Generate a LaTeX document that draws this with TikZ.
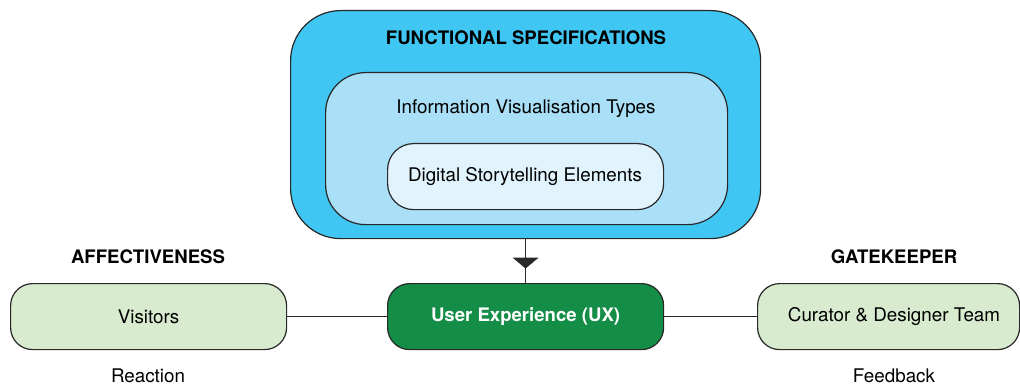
\documentclass[tikz,border=0pt]{standalone}
\usepackage{fontspec}
\setmainfont{TeX Gyre Heros}
\usetikzlibrary{arrows.meta,decorations.markings}
\definecolor{specblue}{RGB}{64,198,242}
\definecolor{typeblue}{RGB}{170,223,248}
\definecolor{elemblue}{RGB}{225,243,252}
\definecolor{uxgreen}{RGB}{20,141,70}
\definecolor{palegreen}{RGB}{216,235,207}
\definecolor{edge}{RGB}{40,40,40}
\begin{document}
\begin{tikzpicture}[x=1pt,y=-1pt,
  txt/.style={font=\fontsize{18.8}{22}\selectfont, text=black, inner sep=0pt},
  hdr/.style={font=\fontsize{18.6}{22}\selectfont\bfseries, text=black, inner sep=0pt},
  panel/.style={draw=edge, line width=1.2pt, inner sep=0pt, anchor=north west},
  wire/.style={draw=edge, line width=1.1pt}
]
\useasboundingbox (0,0) rectangle (1020,385);

% functional specification nest
\node[panel, fill=specblue, rounded corners=50pt, minimum width=470pt, minimum height=228pt] (fs) at (290,10) {};
\node[hdr] (fstitle) at (526,38) {FUNCTIONAL SPECIFICATIONS};
\node[panel, fill=typeblue, rounded corners=40pt, minimum width=402pt, minimum height=152pt] (ivt) at (325,72) {};
\node[txt] (ivttitle) at (526,108.5) {Information Visualisation Types};
\node[panel, fill=elemblue, rounded corners=26pt, minimum width=276pt, minimum height=66pt] (dse) at (387,143) {};
\node[txt] (dsetitle) at (525,176.5) {Digital Storytelling Elements};

% bottom row
\node[panel, fill=uxgreen, rounded corners=22pt, minimum width=276pt, minimum height=66pt] (ux) at (387,283) {};
\node[hdr, text=white] (uxtitle) at (ux.center) {User Experience (UX)};
\node[panel, fill=palegreen, rounded corners=22pt, minimum width=276pt, minimum height=66pt] (vis) at (10,283) {};
\node[txt] (vistitle) at (vis.center) {Visitors};
\node[panel, fill=palegreen, rounded corners=22pt, minimum width=262pt, minimum height=66pt] (cur) at (757,283) {};
\node[txt] (curtitle) at (894,316.5) {Curator \& Designer Team};

% captions
\node[hdr] (aff) at (148,257) {AFFECTIVENESS};
\node[txt] (react) at (148,376) {Reaction};
\node[hdr] (gate) at (894,257) {GATEKEEPER};
\node[txt] (feed) at (894,376) {Feedback};

% connectors
\draw[wire, postaction={decorate}, decoration={markings,
  mark=at position 0.67 with {\arrow{Triangle[width=26pt,length=11pt]}}}]
  (fs.south -| ux.north) -- (ux.north);
\draw[wire] (vis.east) -- (ux.west);
\draw[wire] (ux.east) -- (cur.west);
\end{tikzpicture}
\end{document}
